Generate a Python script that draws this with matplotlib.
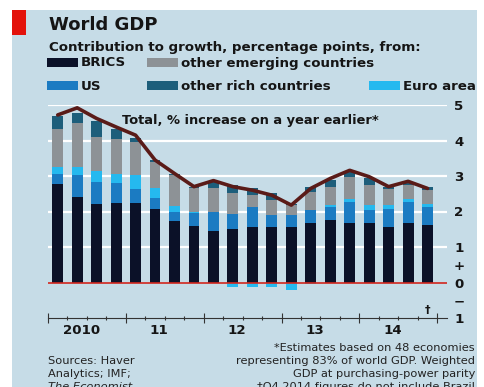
import matplotlib
matplotlib.use("Agg")
import matplotlib.pyplot as plt
from matplotlib.patches import Rectangle
import numpy as np

# quarterly contributions, 2010 Q1 .. 2014 Q4
quarters = ['10Q1', '10Q2', '10Q3', '10Q4', '11Q1', '11Q2', '11Q3', '11Q4',
            '12Q1', '12Q2', '12Q3', '12Q4', '13Q1', '13Q2', '13Q3', '13Q4',
            '14Q1', '14Q2', '14Q3', '14Q4']
brics = [2.77, 2.40, 2.20, 2.23, 2.23, 2.06, 1.72, 1.58, 1.44, 1.52,
         1.56, 1.56, 1.56, 1.67, 1.75, 1.67, 1.67, 1.56, 1.67, 1.61]
us = [0.28, 0.62, 0.62, 0.56, 0.40, 0.31, 0.26, 0.37, 0.54, 0.42,
      0.57, 0.33, 0.33, 0.36, 0.38, 0.59, 0.36, 0.52, 0.59, 0.52]
euro = [0.20, 0.23, 0.32, 0.26, 0.39, 0.29, 0.17, 0.05, 0.02, -0.14,
        -0.14, -0.14, -0.22, -0.05, 0.05, 0.10, 0.15, 0.10, 0.08, 0.07]
other_em = [1.07, 1.24, 0.96, 0.99, 0.94, 0.73, 0.87, 0.66, 0.65, 0.57,
            0.33, 0.43, 0.28, 0.51, 0.50, 0.60, 0.56, 0.45, 0.40, 0.40]
other_rich = [0.37, 0.28, 0.45, 0.28, 0.10, 0.05, 0.05, 0.03, 0.17, 0.24,
              0.19, 0.20, 0.05, 0.14, 0.20, 0.16, 0.20, 0.05, 0.06, 0.08]
total = [4.72, 4.92, 4.62, 4.38, 4.15, 3.45, 3.07, 2.70, 2.87, 2.70,
         2.60, 2.46, 2.18, 2.65, 2.93, 3.16, 2.98, 2.70, 2.85, 2.65]
year_labels = ['2010', '11', '12', '13', '14']

series = [brics, us, euro, other_em, other_rich]
names = ['BRICS', 'US', 'Euro area', 'other emerging countries', 'other rich countries']
colors = ['#0b1128', '#1b7bc2', '#25b9ef', '#8d9296', '#1d5e7b']

W, H = 485, 387
bg = '#c6dce7'
ink = '#151515'

fig = plt.figure(figsize=(W / 100, H / 100), dpi=100)
fig.patch.set_facecolor('white')


def px(x, y):
    return x / W, 1 - y / H


fig.add_artist(Rectangle(px(12, 387), 465 / W, 377 / H, transform=fig.transFigure,
                         facecolor=bg, edgecolor='none', zorder=0))
fig.add_artist(Rectangle(px(12, 35), 14 / W, 25 / H, transform=fig.transFigure,
                         facecolor='#e3120b', edgecolor='none', zorder=1))

fig.text(*px(49, 30), 'World GDP', fontsize=13, fontweight='bold', color=ink, va='baseline')
fig.text(*px(49, 51), 'Contribution to growth, percentage points, from:', fontsize=9.6,
         fontweight='bold', color=ink, va='baseline')

# legend
legend_pos = [(47, 63, 0), (147, 63, 3), (47, 86, 1), (147, 86, 4), (369, 86, 2)]
for lx, ly, k in legend_pos:
    fig.add_artist(Rectangle(px(lx, ly + 4), 31 / W, 9 / H, transform=fig.transFigure,
                             facecolor=colors[k], edgecolor='none'))
    fig.text(*px(lx + 34, ly), names[k], fontsize=9.6, fontweight='bold', color=ink, va='center')

ax = fig.add_axes([48 / W, (H - 318) / H, (447 - 48) / W, (318 - 105) / H])
ax.set_facecolor('none')

x = np.arange(len(quarters))
pos_base = np.zeros(len(x))
neg_base = np.zeros(len(x))
for vals, c in zip(series, colors):
    vals = np.array(vals)
    base = np.where(vals >= 0, pos_base, neg_base)
    ax.bar(x, vals, bottom=base, width=0.56, color=c, zorder=3, linewidth=0)
    pos_base += np.clip(vals, 0, None)
    neg_base += np.clip(vals, None, 0)

ax.plot(x, total, color='#5a1b18', lw=2.6, zorder=5, solid_capstyle='round')

for g in [1, 2, 3, 4, 5]:
    ax.axhline(g, color='white', lw=1.6, zorder=1)
ax.axhline(0, color='#d2261e', lw=1.2, zorder=4)

ax.set_xlim(-0.5, 20.0)
ax.set_ylim(-1, 5)

for s in ['top', 'left', 'right']:
    ax.spines[s].set_visible(False)
ax.spines['bottom'].set_color('#333333')
ax.spines['bottom'].set_linewidth(0.8)

ax.set_xticks(np.arange(-0.5, 20, 4))
ax.set_xticks(np.arange(-0.5, 20, 1), minor=True)
ax.tick_params(axis='x', which='major', direction='inout', length=7, width=0.8,
               color='#333333', labelbottom=False)
ax.tick_params(axis='x', which='minor', direction='inout', length=3.5, width=0.8,
               color='#333333')

for i, lab in enumerate(year_labels):
    ax.text(1.2 + 4 * i, -1.36, lab, ha='center', va='center', fontsize=9.6,
            fontweight='bold', color=ink)

ax.yaxis.tick_right()
ax.set_yticks([5, 4, 3, 2, 1, 0.5, 0, -0.5, -1])
ax.set_yticklabels(['5', '4', '3', '2', '1', '+', '0', '\u2212', '1'])
ax.tick_params(axis='y', length=0, pad=5, labelsize=9.6, labelcolor=ink)
for t in ax.get_yticklabels():
    t.set_fontweight('bold')

ax.text(3.3, 4.55, 'Total, % increase on a year earlier*', fontsize=9.4,
        fontweight='bold', color=ink, va='center', zorder=6)
ax.text(19, -0.78, '\u2020', fontsize=8, fontweight='bold', color=ink, ha='center', va='center')

# footer
foot = dict(fontsize=8.2, color='#222222', va='center')
fig.text(*px(475, 348), '*Estimates based on 48 economies', ha='right', **foot)
fig.text(*px(475, 361), 'representing 83% of world GDP. Weighted', ha='right', **foot)
fig.text(*px(475, 374), 'GDP at purchasing-power parity', ha='right', **foot)
fig.text(*px(475, 387), '\u2020Q4 2014 figures do not include Brazil', ha='right', **foot)
fig.text(*px(48, 361), 'Sources: Haver', ha='left', **foot)
fig.text(*px(48, 374), 'Analytics; IMF;', ha='left', **foot)
fig.text(*px(48, 387), 'The Economist', ha='left', style='italic', **foot)

fig.savefig('out.png', dpi=100, facecolor=fig.get_facecolor())
